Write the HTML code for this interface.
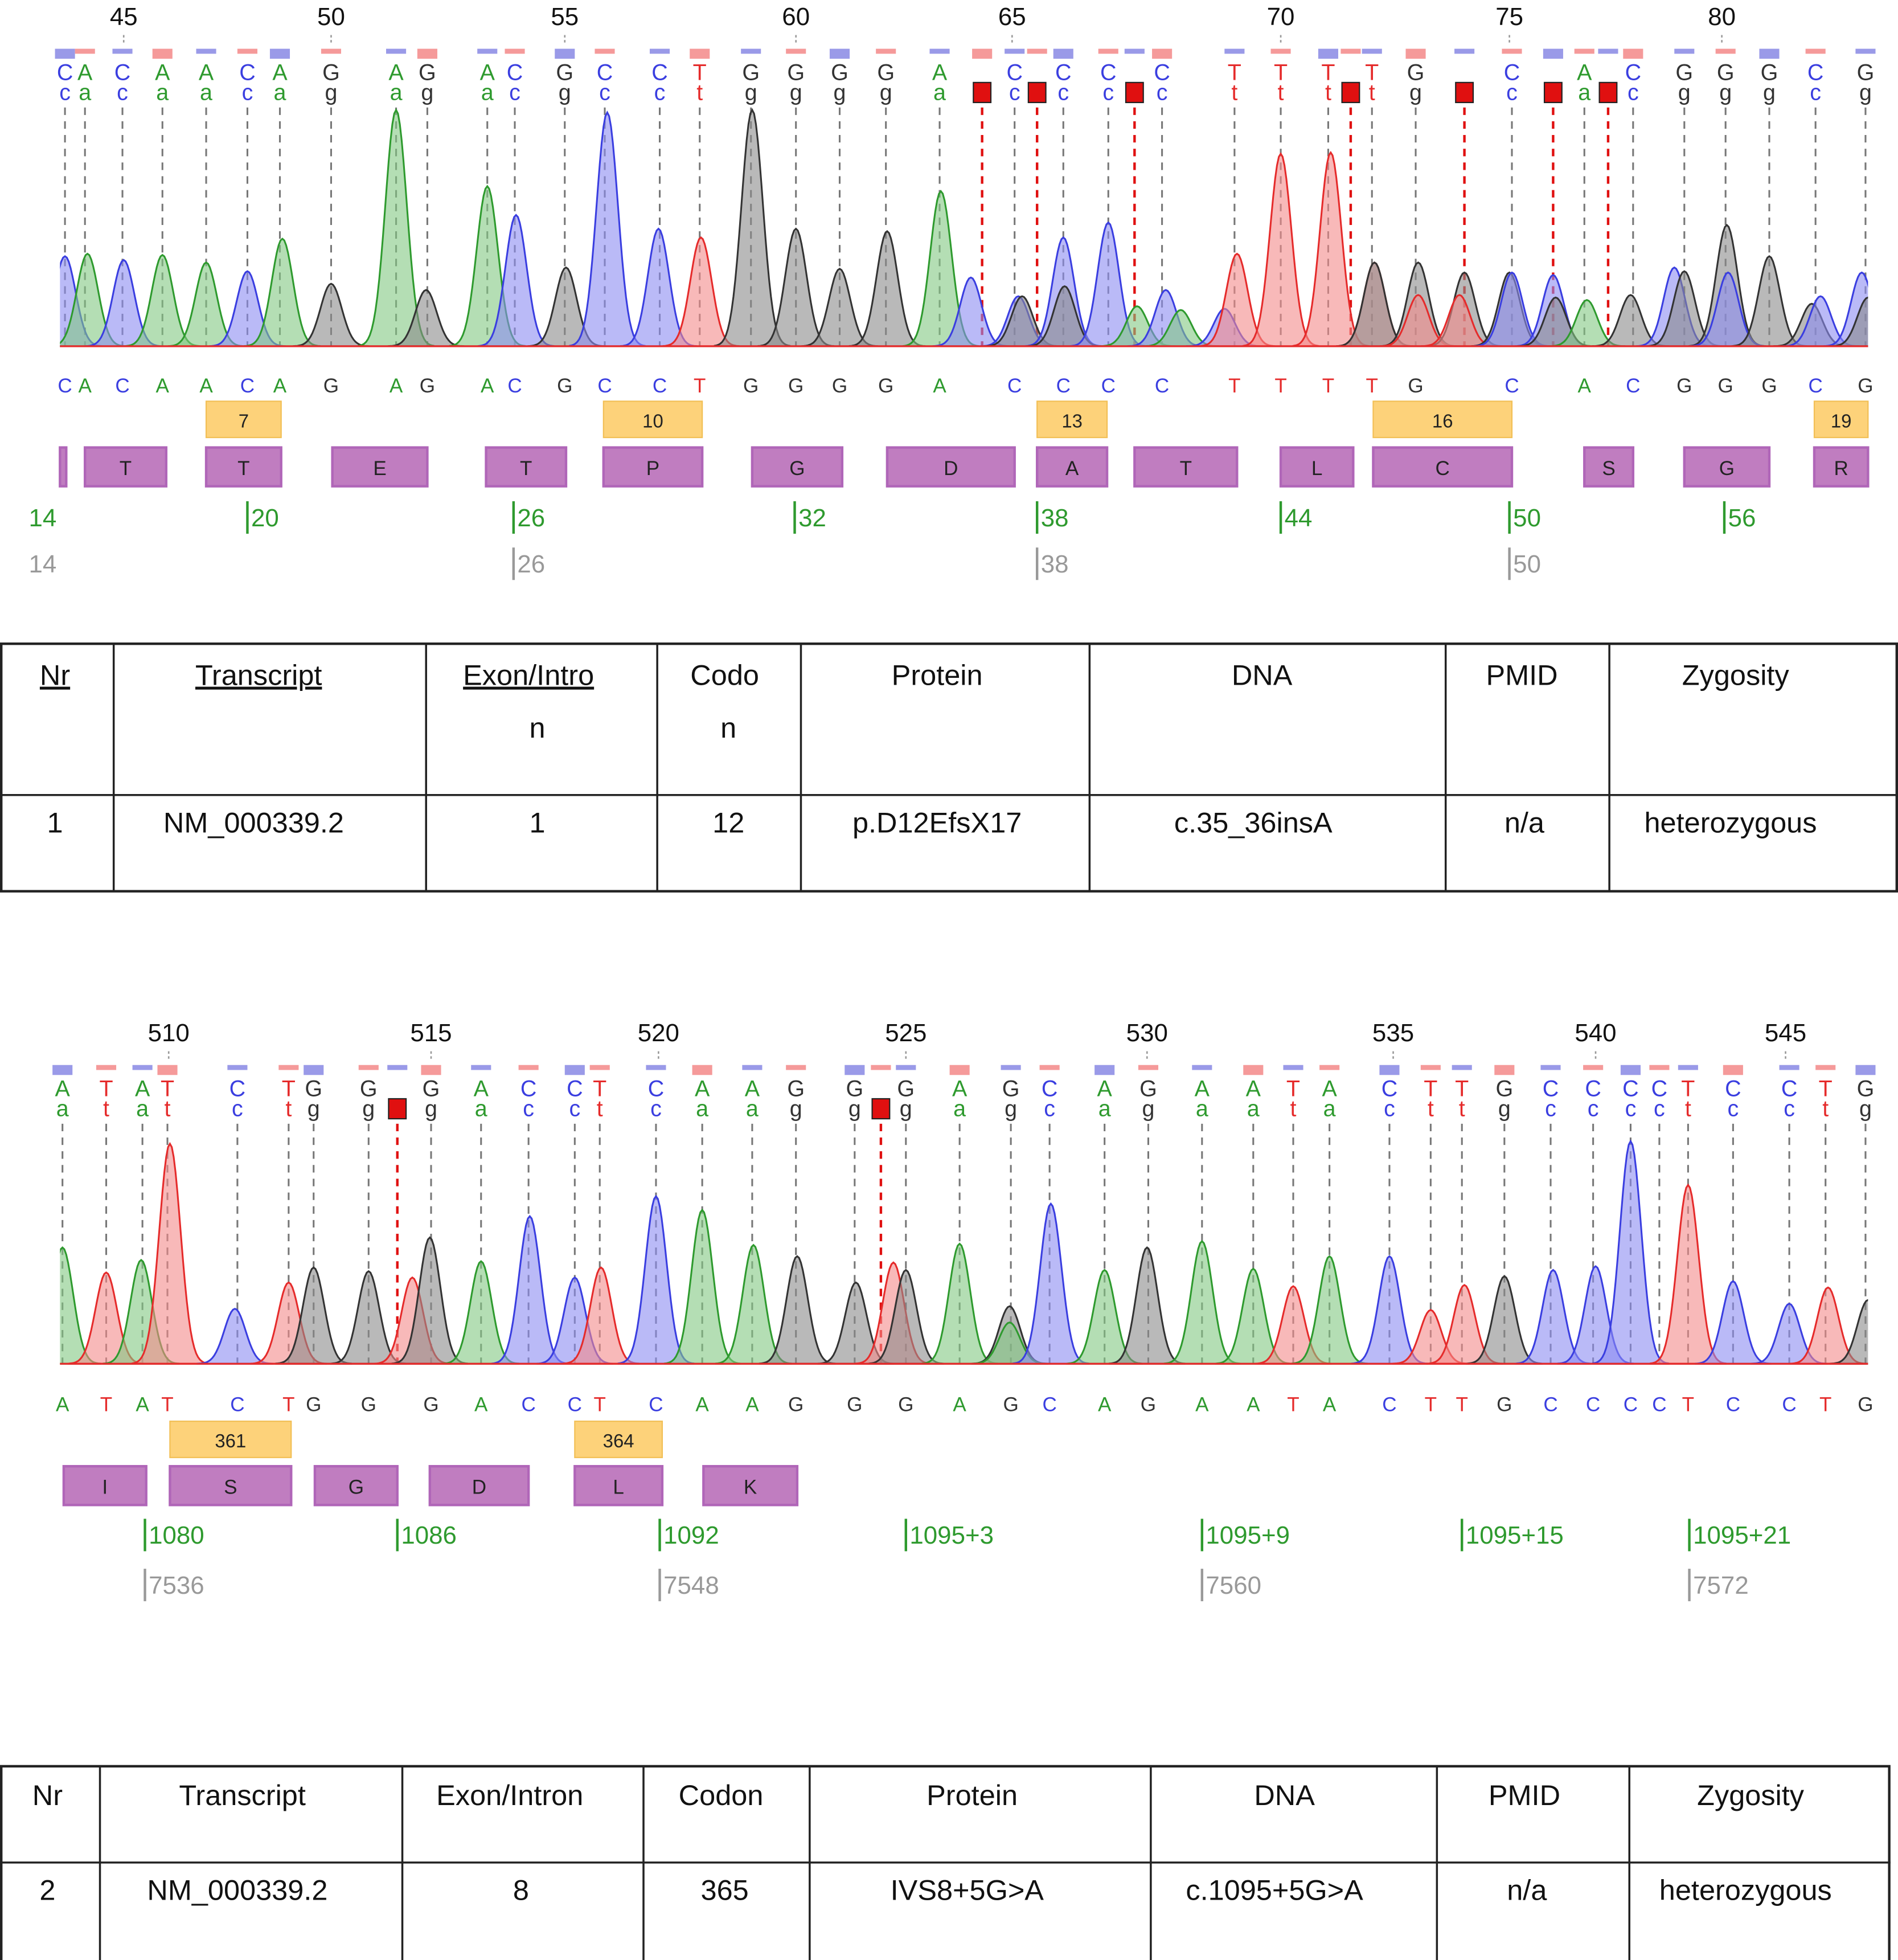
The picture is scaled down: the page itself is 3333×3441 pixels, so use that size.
<!DOCTYPE html>
<html><head><meta charset="utf-8"><style>
html,body{margin:0;padding:0;background:#fff;}
svg{display:block;}
</style></head><body>
<svg id="root" xmlns="http://www.w3.org/2000/svg" width="3333" height="3441" viewBox="0 0 1519 1568" preserveAspectRatio="none" font-family="Liberation Sans, DejaVu Sans, sans-serif">
<rect width="1519" height="1568" fill="#fff"/>
<g id="p1"></g>
<g id="p2"></g>
<g id="t1"></g>
<g id="t2"></g>
</svg>
<script>
// ---------- Panel 1 data (scan position, signal height, base) ----------
const p1PeakScan=[4,22,51,82,117,150,178,217,269,293,342,365,405,438,479,513,554,589,624,662,705,729,767,770,803,804,839,862,885,897,932,942,977,1017,1052,1052,1087,1087,1124,1120,1160,1162,1195,1197,1222,1257,1292,1300,1334,1335,1368,1402,1409,1442,1447];
const p1PeakHeight=[72,74,69,73,67,60,86,50,189,45,128,105,63,187,94,87,189,94,62,92,124,55,40,40,87,48,99,32,45,29,30,74,154,155,67,67,67,41,59,41,59,59,57,39,37,41,63,60,97,59,72,34,40,59,39];
const p1PeakBase=["C","A","C","A","A","C","A","G","A","G","A","C","G","C","C","T","G","G","G","G","A","C","C","G","C","G","C","A","C","A","C","T","T","T","T","G","G","T","G","T","G","C","C","G","A","G","C","G","G","C","G","G","C","C","G"];
const p1CallScan=[4,20,50,82,117,150,176,217,269,294,342,364,404,436,480,512,553,589,624,661,704,738,764,782,803,839,860,882,940,977,1015,1033,1050,1085,1124,1162,1195,1220,1239,1259,1300,1333,1368,1405,1445];
const p1CallBase=["C","A","C","A","A","C","A","G","A","G","A","C","G","C","C","T","G","G","G","G","A","A","C","g","C","C","a","C","T","T","T","g","T","G","G","C","C","A","g","C","G","G","G","C","G"];
const p1CallMark=[0,0,0,0,0,0,0,0,0,0,0,0,0,0,0,0,0,0,0,0,0,1,0,1,0,0,1,0,0,0,0,1,0,0,1,0,1,0,1,0,0,0,0,0,0];
const p1RulerBase=[45,50,55,60,65,70,75,80];
const p1RulerScan=[51,217,404,589,762,977,1160,1330];
const p1CodonNum=["7","10","13","16","19"];
const p1CodonStart=[117,435,782,1051,1404];
const p1CodonEnd=[177,514,838,1162,1447];
const p1AA=["","T","T","E","T","P","G","D","A","T","L","C","S","G","R"];
const p1AAStart=[0,20,117,218,341,435,554,662,782,860,977,1051,1220,1300,1404];
const p1AAEnd=[5,85,177,294,405,514,626,764,838,942,1035,1162,1259,1368,1447];
const p1CdsLabel=["14","20","26","32","38","44","50","56"];
const p1CdsScan=[-28,150,363,588,782,977,1160,1332];
const p1GenLabel=["14","26","38","50"];
const p1GenScan=[-28,363,782,1160];

// ---------- Panel 2 data ----------
const p2PeakScan=[2,37,65,88,140,183,203,247,282,296,337,376,412,433,477,514,555,590,637,667,677,720,760,760,793,836,870,914,955,987,1016,1064,1097,1124,1156,1195,1229,1257,1303,1339,1384,1415,1447];
const p2PeakHeight=[93,73,83,176,44,65,77,74,69,101,82,118,69,77,134,123,95,86,65,81,75,96,46,33,128,75,93,98,76,62,86,86,43,63,70,75,78,178,143,66,48,61,51];
const p2PeakBase=["A","T","A","T","C","T","G","G","T","G","A","C","C","T","C","A","A","G","G","T","G","A","G","A","C","A","G","A","A","T","A","C","T","T","G","C","C","C","T","C","C","T","G"];
const p2CallScan=[2,37,66,86,142,183,203,247,270,297,337,375,412,432,477,514,554,589,636,657,677,720,761,792,836,871,914,955,987,1016,1064,1097,1122,1156,1193,1227,1257,1280,1303,1339,1384,1413,1445];
const p2CallBase=["A","T","A","T","C","T","G","G","g","G","A","C","C","T","C","A","A","G","G","a","G","A","G","C","A","G","A","A","T","A","C","T","T","G","C","C","C","C","T","C","C","T","G"];
const p2CallMark=[0,0,0,0,0,0,0,0,1,0,0,0,0,0,0,0,0,0,0,1,0,0,0,0,0,0,0,0,0,0,0,0,0,0,0,0,0,0,0,0,0,0,0];
const p2RulerBase=[510,515,520,525,530,535,540,545];
const p2RulerScan=[87,297,479,677,870,1067,1229,1381];
const p2CodonNum=["361","364"];
const p2CodonStart=[88,412];
const p2CodonEnd=[185,482];
const p2AA=["I","S","G","D","L","K"];
const p2AAStart=[3,88,204,296,412,515];
const p2AAEnd=[69,185,270,375,482,590];
const p2CdsLabel=["1080","1086","1092","1095+3","1095+9","1095+15","1095+21"];
const p2CdsScan=[68,270,480,677,914,1122,1304];
const p2GenLabel=["7536","7548","7560","7572"];
const p2GenScan=[68,480,914,1304];

const COL={A:"#2e9a2e",C:"#3a3ee0",G:"#333333",T:"#e52b2b"};
const FILL={A:"#82c882",C:"#8c8cf2",G:"#8a8a8a",T:"#f48a8a"};
const NS="http://www.w3.org/2000/svg";
function mk(tag,attrs,parent){const e=document.createElementNS(NS,tag);for(const k in attrs)e.setAttribute(k,attrs[k]);parent.appendChild(e);return e;}

function panel(g,cfg){
  const x0=48,x1=1495;
  const xScale=s=>x0+s;
  const base=cfg.base;
  const yScale=h=>base-h;
  // ruler
  cfg.rulerBase.forEach((b,i)=>{
    const x=xScale(cfg.rulerScan[i]);
    const t=mk('text',{x:x,y:cfg.top-20,'font-size':20,'text-anchor':'middle',fill:'#111'},g);t.textContent=b;
    
    
    const l=mk('line',{x1:x,x2:x,y1:cfg.top-12,y2:cfg.top-6,stroke:'#999','stroke-width':1.2,'stroke-dasharray':'2,2'},g);
    
    
  });
  // quality bars and calls
  cfg.callScan.forEach((s,i)=>{
    const x=xScale(s);const b=cfg.callBase[i];const up=b.toUpperCase();const mark=cfg.callMark[i];
    const q=mk('rect',{x:x-8,y:cfg.top-1,width:16,height:(i%3===0?8:4),fill:(i%2?'#f59a9a':'#9a9ae8')},g);
    
    
    if(!mark||up!==b){
      const t=mk('text',{x:x,y:cfg.top+24,'font-size':18,'text-anchor':'middle',fill:COL[up]},g);t.textContent=mark?'':up;
      
      
    }
    if(!mark){
      const t2=mk('text',{x:x,y:cfg.top+40,'font-size':18,'text-anchor':'middle',fill:COL[up]},g);t2.textContent=b.toLowerCase();
      
      
    }else{
      const r=mk('rect',{x:x-7,y:cfg.top+26,width:14,height:16,fill:'#e01010',stroke:'#222','stroke-width':1},g);
      
      
    }
    const dl=mk('line',{x1:x,x2:x,y1:cfg.top+46,y2:base,stroke:mark?'#e01010':'#777','stroke-width':mark?2:1.4,'stroke-dasharray':'6,5'},g);
    
    
    const st=mk('text',{x:x,y:cfg.seqY,'font-size':16,'text-anchor':'middle',fill:COL[up]},g);st.textContent=mark?'':up;
    
    
  });
  // peaks
  const clip=mk('clipPath',{id:'clip'+cfg.id},g);
  mk('rect',{x:x0,y:0,width:x1-x0,height:base+2},clip);
  const pg=mk('g',{'clip-path':'url(#clip'+cfg.id+')'},g);
  
  
  const sig=8.5;
  cfg.peakScan.forEach((s,i)=>{
    const c=xScale(s),h=cfg.peakHeight[i],b=cfg.peakBase[i];
    let d='M'+(c-30)+','+base;
    for(let dx=-30;dx<=30;dx+=1.5){const y=yScale(h*Math.exp(-dx*dx/(2*sig*sig)));d+=' L'+(c+dx).toFixed(1)+','+y.toFixed(1);}
    d+=' L'+(c+30)+','+base+' Z';
    const p=mk('path',{d:d,fill:FILL[b],'fill-opacity':0.6,stroke:COL[b],'stroke-width':1.4},pg);
    
    
  });
  const bl=mk('line',{x1:x0,x2:x1,y1:base,y2:base,stroke:'#e52b2b','stroke-width':1.5},g);
  
  
  // codon boxes
  cfg.codonNum.forEach((n,i)=>{
    const a=xScale(cfg.codonStart[i]),b=xScale(cfg.codonEnd[i]);
    const r=mk('rect',{x:a,y:cfg.codY,width:b-a,height:29,fill:'#fdd27a',stroke:'#f2bf55'},g);
    
    
    const t=mk('text',{x:(a+b)/2,y:cfg.codY+21,'font-size':15,'text-anchor':'middle',fill:'#222'},g);t.textContent=n;
    
    
  });
  cfg.aa.forEach((n,i)=>{
    const a=xScale(cfg.aaStart[i]),b=xScale(cfg.aaEnd[i]);
    const r=mk('rect',{x:a,y:cfg.aaY,width:b-a,height:31,fill:'#c07dc0',stroke:'#b066b8','stroke-width':2},g);
    
    
    const t=mk('text',{x:(a+b)/2,y:cfg.aaY+22,'font-size':16,'text-anchor':'middle',fill:'#222'},g);t.textContent=n;
    
    
  });
  cfg.cdsLabel.forEach((n,i)=>{
    const x=xScale(cfg.cdsScan[i]);
    if(cfg.cdsScan[i]>=0){const l=mk('line',{x1:x,x2:x,y1:cfg.cdsY-18,y2:cfg.cdsY+8,stroke:'#2e9a2e','stroke-width':2},g);
      
      }
    const t=mk('text',{x:x+3,y:cfg.cdsY+2,'font-size':20,fill:'#2e9a2e'},g);t.textContent=n;
    
    
  });
  cfg.genLabel.forEach((n,i)=>{
    const x=xScale(cfg.genScan[i]);
    if(cfg.genScan[i]>=0){const l=mk('line',{x1:x,x2:x,y1:cfg.genY-18,y2:cfg.genY+8,stroke:'#999','stroke-width':2},g);
      
      }
    const t=mk('text',{x:x+3,y:cfg.genY+2,'font-size':20,fill:'#999'},g);t.textContent=n;
    
    
  });
}
panel(document.getElementById('p1'),{id:1,top:40,base:277,seqY:314,codY:321,aaY:358,cdsY:419,genY:456,
  peakScan:p1PeakScan,peakHeight:p1PeakHeight,peakBase:p1PeakBase,callScan:p1CallScan,callBase:p1CallBase,callMark:p1CallMark,
  rulerBase:p1RulerBase,rulerScan:p1RulerScan,codonNum:p1CodonNum,codonStart:p1CodonStart,codonEnd:p1CodonEnd,
  aa:p1AA,aaStart:p1AAStart,aaEnd:p1AAEnd,cdsLabel:p1CdsLabel,cdsScan:p1CdsScan,genLabel:p1GenLabel,genScan:p1GenScan});
panel(document.getElementById('p2'),{id:2,top:853,base:1091,seqY:1129,codY:1137,aaY:1173,cdsY:1233,genY:1273,
  peakScan:p2PeakScan,peakHeight:p2PeakHeight,peakBase:p2PeakBase,callScan:p2CallScan,callBase:p2CallBase,callMark:p2CallMark,
  rulerBase:p2RulerBase,rulerScan:p2RulerScan,codonNum:p2CodonNum,codonStart:p2CodonStart,codonEnd:p2CodonEnd,
  aa:p2AA,aaStart:p2AAStart,aaEnd:p2AAEnd,cdsLabel:p2CdsLabel,cdsScan:p2CdsScan,genLabel:p2GenLabel,genScan:p2GenScan});

// ---------- Tables ----------
function table(g,cols,rows,cells,underline){
  const L=cols[0],R=cols[cols.length-1],T=rows[0],B=rows[rows.length-1];
  const fr=mk('rect',{x:L+1,y:T,width:R-L-2,height:B-T,fill:'none',stroke:'#222','stroke-width':2},g);
  
  
  cols.slice(1,-1).forEach(c=>{const l=mk('line',{x1:c,x2:c,y1:T,y2:B,stroke:'#222','stroke-width':1.6},g);
    
    });
  rows.slice(1,-1).forEach(r=>{const l=mk('line',{x1:L,x2:R,y1:r,y2:r,stroke:'#222','stroke-width':1.6},g);
    
    });
  cells.forEach(c=>{
    const t=mk('text',{x:c[1],y:c[2],'font-size':23,'text-anchor':'middle',fill:'#111'},g);t.textContent=c[0];
    if(underline&&c[3])t.setAttribute('text-decoration','underline');
    
    
  });
}
table(document.getElementById('t1'),[0,91,341,526,641,872,1157,1288,1519],[515,636,713],[
  ["Nr",44,548,1],["Transcript",207,548,1],["Exon/Intro",423,548,1],["n",430,590],["Codo",580,548],["n",583,590],
  ["Protein",750,548],["DNA",1010,548],["PMID",1218,548],["Zygosity",1389,548],
  ["1",44,666],["NM_000339.2",203,666],["1",430,666],["12",583,666],["p.D12EfsX17",750,666],["c.35_36insA",1003,666],["n/a",1220,666],["heterozygous",1385,666]
],true);
table(document.getElementById('t2'),[0,80,322,515,648,921,1150,1304,1513],[1413,1490,1570],[
  ["Nr",38,1444],["Transcript",194,1444],["Exon/Intron",408,1444],["Codon",577,1444],["Protein",778,1444],["DNA",1028,1444],["PMID",1220,1444],["Zygosity",1401,1444],
  ["2",38,1520],["NM_000339.2",190,1520],["8",417,1520],["365",580,1520],["IVS8+5G>A",774,1520],["c.1095+5G>A",1020,1520],["n/a",1222,1520],["heterozygous",1397,1520]
],false);
</script>
</body></html>
